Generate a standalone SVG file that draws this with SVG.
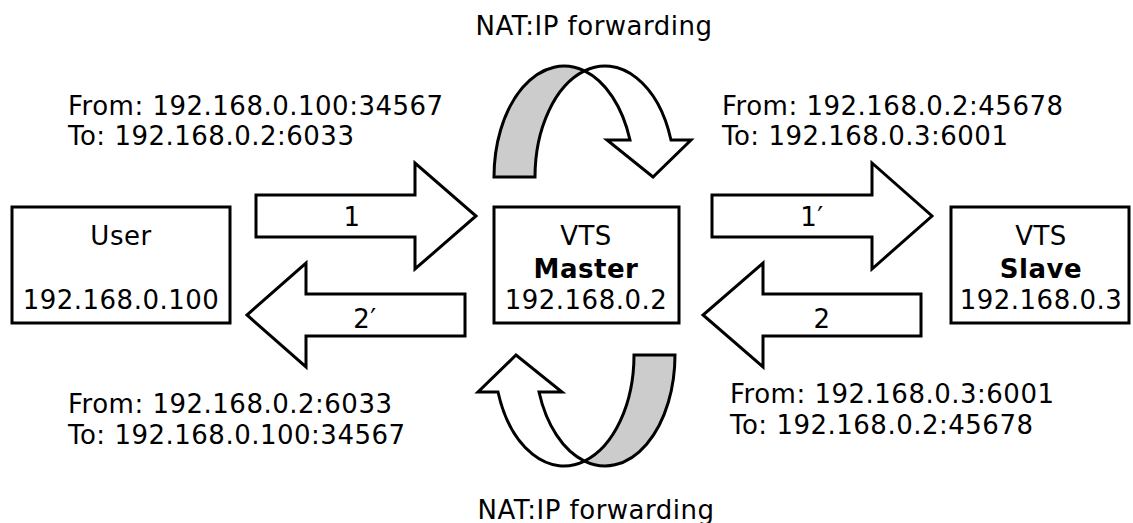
<svg xmlns="http://www.w3.org/2000/svg" width="1133" height="523" viewBox="0 0 1133 523">
<style>
.box{fill:#fff;stroke:#000;stroke-width:3}
.arr{fill:#fff;stroke:#000;stroke-width:3;stroke-linejoin:miter}
.back{fill:#cccccc;stroke:#000;stroke-width:3;stroke-linejoin:miter}
text{font-family:Verdana,"DejaVu Sans",sans-serif;font-size:26px;fill:#000;letter-spacing:0.5px}
.c{text-anchor:middle}
.b{font-weight:bold}
</style>
<rect width="1133" height="523" fill="#fff"/>
<g id="connectors">
  <path id="arrow-1" class="arr" d="M256,195 L415,195 L415,163 L476,216 L415,269 L415,237 L256,237 Z"/>
  <path id="arrow-2p" class="arr" d="M465,294 L306,294 L306,263 L247,315 L306,367 L306,336 L465,336 Z"/>
  <path id="arrow-1p" class="arr" d="M712,195 L872,195 L872,163 L932,216 L872,269 L872,237 L712,237 Z"/>
  <path id="arrow-2" class="arr" d="M921,294 L763,294 L763,263 L703,315 L763,367 L763,336 L921,336 Z"/>
  <g id="nat-top">
    <path class="back" d="M494,177 A70,111 0 0,1 584.5,70.9 A70,111 0 0,0 535,177 Z"/>
    <path class="arr" d="M584.5,70.9 A70,111 0 0,1 671,140 L691,140 L653,177 L607,140 L630,140 A70,111 0 0,0 584.5,70.9 Z"/>
  </g>
  <g id="nat-bottom" transform="rotate(180 584.5 266)">
    <path class="back" d="M494,177 A70,111 0 0,1 584.5,70.9 A70,111 0 0,0 535,177 Z"/>
    <path class="arr" d="M584.5,70.9 A70,111 0 0,1 671,140 L691,140 L653,177 L607,140 L630,140 A70,111 0 0,0 584.5,70.9 Z"/>
  </g>
  <text class="c" x="352" y="226">1</text>
  <text class="c" x="365" y="328">2′</text>
  <text class="c" x="812" y="226">1′</text>
  <text class="c" x="822" y="328">2</text>
</g>
<g id="user">
  <rect class="box" x="12" y="207" width="218" height="116"/>
  <text class="c" x="121" y="245">User</text>
  <text class="c" x="121" y="309">192.168.0.100</text>
</g>
<g id="master">
  <rect class="box" x="494" y="207" width="185" height="116"/>
  <text class="c" x="586" y="245">VTS</text>
  <text class="c b" x="586" y="278">Master</text>
  <text class="c" x="586" y="309">192.168.0.2</text>
</g>
<g id="slave">
  <rect class="box" x="951" y="207" width="178" height="116"/>
  <text class="c" x="1041" y="245">VTS</text>
  <text class="c b" x="1041" y="278">Slave</text>
  <text class="c" x="1041" y="309">192.168.0.3</text>
</g>
<g id="labels">
  <text class="c" x="594" y="35">NAT:IP forwarding</text>
  <text class="c" x="596" y="519">NAT:IP forwarding</text>
  <text x="68" y="115">From: 192.168.0.100:34567</text>
  <text x="68" y="145">To: 192.168.0.2:6033</text>
  <text x="722" y="115">From: 192.168.0.2:45678</text>
  <text x="722" y="145">To: 192.168.0.3:6001</text>
  <text x="68" y="413">From: 192.168.0.2:6033</text>
  <text x="68" y="444">To: 192.168.0.100:34567</text>
  <text x="730" y="403">From: 192.168.0.3:6001</text>
  <text x="730" y="434">To: 192.168.0.2:45678</text>
</g>
</svg>
